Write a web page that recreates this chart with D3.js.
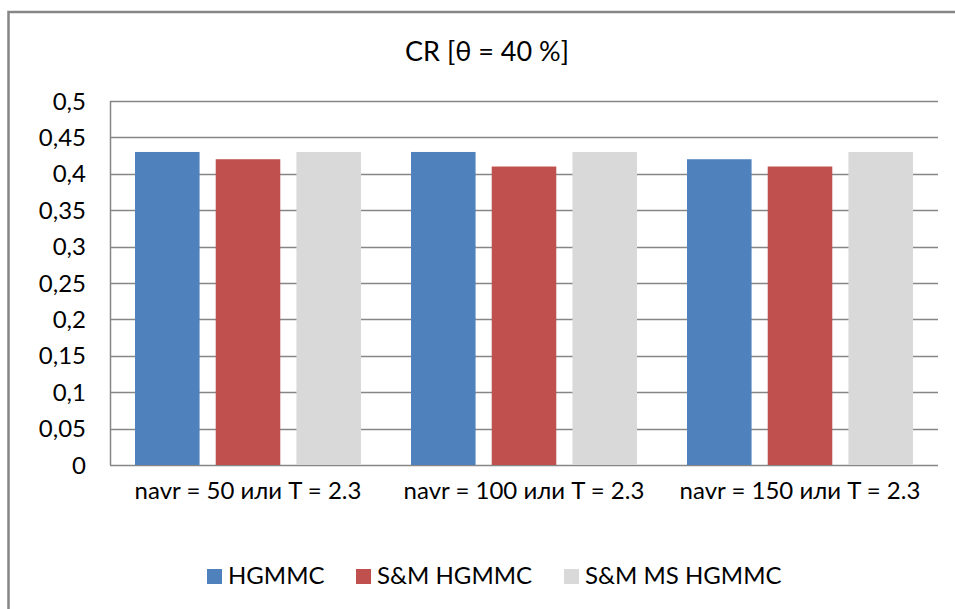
<!DOCTYPE html>
<html>
<head>
<meta charset="utf-8">
<script src="https://cdn.jsdelivr.net/npm/d3@7"></script>
<style>
  body { margin: 0; background: #fff; }
  text { font-family: Lato, "Open Sans", sans-serif; fill: #000; }
</style>
</head>
<body>
<div id="chart"></div>
<script>
// CR bar chart, three methods per setting
const categories = ["navr = 50 или T = 2.3", "navr = 100 или T = 2.3", "navr = 150 или T = 2.3"];
const seriesNames = ["HGMMC", "S&M HGMMC", "S&M MS HGMMC"];
const seriesColors = ["#4f81bd", "#c0504d", "#d9d9d9"];
const hgmmc   = [0.43, 0.43, 0.42];
const smHgmmc = [0.42, 0.41, 0.41];
const smMs    = [0.43, 0.43, 0.43];
const yTicks = [0, 0.05, 0.1, 0.15, 0.2, 0.25, 0.3, 0.35, 0.4, 0.45, 0.5];
const yTickLabels = ["0", "0,05", "0,1", "0,15", "0,2", "0,25", "0,3", "0,35", "0,4", "0,45", "0,5"];

const width = 955, height = 609;
const margin = { top: 101, right: 17, bottom: 144, left: 110 };
const plotW = width - margin.left - margin.right;
const plotH = height - margin.top - margin.bottom;

const svg = d3.select("#chart").append("svg")
  .attr("width", width).attr("height", height);

// outer chart border
svg.append("rect")
  .attr("x", 8.5).attr("y", 12)
  .attr("width", width + 10).attr("height", height + 10)
  .attr("fill", "none").attr("stroke", "#868686").attr("stroke-width", 2.5);

svg.append("text")
  .attr("x", 487).attr("y", 61)
  .attr("text-anchor", "middle")
  .style("font-size", "27px")
  .text("CR [θ = 40 %]");

const plot = svg.append("g").attr("transform", `translate(${margin.left},${margin.top})`);

const x0 = d3.scaleBand().domain(categories).range([0, plotW]).paddingInner(0).paddingOuter(0);
const x1 = d3.scaleBand().domain(seriesNames).range([25, x0.bandwidth() - 25]).paddingInner(0.2);
const y = d3.scaleLinear().domain([0, 0.5]).range([plotH, 0]);

// gridlines
plot.selectAll(".grid").data(yTicks).enter().append("line")
  .attr("x1", 0).attr("x2", plotW)
  .attr("y1", d => Math.round(y(d)) + 0.5).attr("y2", d => Math.round(y(d)) + 0.5)
  .attr("stroke", "#868686").attr("stroke-width", 1.5);

// y labels
plot.selectAll(".ylab").data(yTicks).enter().append("text")
  .attr("x", -24).attr("y", d => y(d) + 8.5)
  .attr("text-anchor", "end")
  .style("font-size", "24px")
  .text((d, i) => yTickLabels[i]);

// bars
const table = seriesNames.map((s, i) => ({ name: s, color: seriesColors[i], values: [hgmmc, smHgmmc, smMs][i] }));
table.forEach(s => {
  plot.selectAll(null).data(s.values).enter().append("rect")
    .attr("x", (d, i) => x0(categories[i]) + x1(s.name))
    .attr("y", d => y(d))
    .attr("width", x1.bandwidth())
    .attr("height", d => plotH - y(d))
    .attr("fill", s.color);
});

// y axis line
plot.append("line")
  .attr("x1", 0.5).attr("x2", 0.5).attr("y1", 0).attr("y2", plotH)
  .attr("stroke", "#868686").attr("stroke-width", 1.5);

// category labels
plot.selectAll(".xlab").data(categories).enter().append("text")
  .attr("x", d => x0(d) + x0.bandwidth() / 2)
  .attr("y", plotH + 34)
  .attr("text-anchor", "middle")
  .style("font-size", "24px")
  .text(d => d);

// legend
const legendX = [207, 356, 564];
const legend = svg.append("g");
table.forEach((s, i) => {
  legend.append("rect")
    .attr("x", legendX[i]).attr("y", 569)
    .attr("width", 15).attr("height", 15)
    .attr("fill", s.color);
  legend.append("text")
    .attr("x", legendX[i] + 21).attr("y", 584)
    .style("font-size", "24px")
    .text(s.name);
});
</script>
</body>
</html>
